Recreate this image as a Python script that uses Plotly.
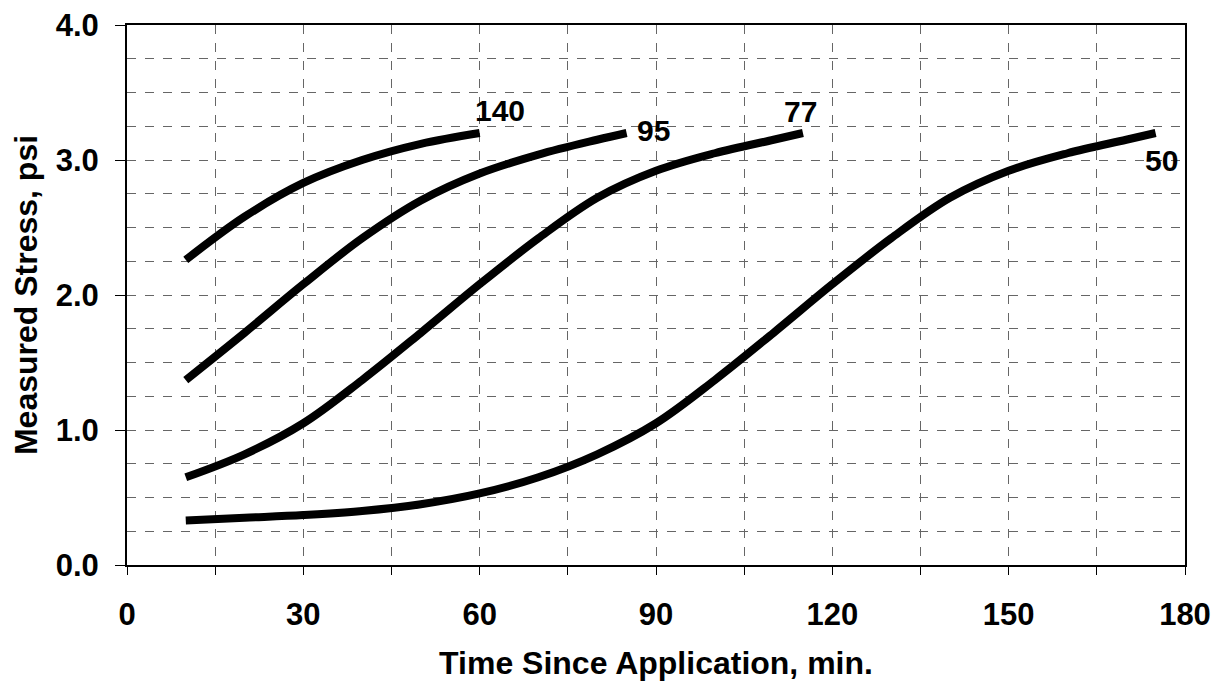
import plotly.graph_objects as go

# curves labelled by temperature
t140 = [10, 20, 30, 40, 50, 60]
s140 = [2.26, 2.58, 2.83, 3.0, 3.12, 3.2]

t95 = [10, 20, 30, 40, 50, 60, 70, 80, 85]
s95 = [1.37, 1.72, 2.08, 2.42, 2.7, 2.9, 3.04, 3.15, 3.2]

t77 = [10, 20, 30, 40, 50, 60, 70, 80, 90, 100, 110, 115]
s77 = [0.65, 0.82, 1.05, 1.37, 1.72, 2.08, 2.42, 2.72, 2.92, 3.05, 3.15, 3.2]

t50 = [10, 20, 30, 40, 50, 60, 70, 80, 90, 100, 110, 120, 130, 140, 150, 160, 170, 175]
s50 = [0.33, 0.35, 0.37, 0.4, 0.45, 0.53, 0.65, 0.82, 1.05, 1.37, 1.72, 2.08,
       2.42, 2.72, 2.92, 3.05, 3.15, 3.2]

labels = ["140", "95", "77", "50"]
label_x = [63.5, 89.5, 114.5, 176]
label_y = [3.37, 3.22, 3.36, 3.0]

fig = go.Figure()
for t, s in [(t140, s140), (t95, s95), (t77, s77), (t50, s50)]:
    fig.add_trace(go.Scatter(x=t, y=s, mode="lines",
                             line=dict(color="black", width=8, shape="spline"),
                             showlegend=False))

for lab, lx, ly in zip(labels, label_x, label_y):
    fig.add_annotation(x=lx, y=ly, text="<b>%s</b>" % lab, showarrow=False,
                       font=dict(size=30, color="black"))

# page has an 8px body margin, so the figure is a bit smaller than the window
fig.update_layout(
    width=1214, height=683,
    margin=dict(l=119, r=37, t=17, b=126),
    plot_bgcolor="white", paper_bgcolor="white",
    font=dict(family="Liberation Sans, Arial", color="black"),
)
fig.update_xaxes(
    range=[0, 180], tickmode="linear", tick0=0, dtick=30, automargin=False,
    tickfont=dict(size=31), tickprefix="<b>", ticksuffix="</b>",
    ticklabeloverflow="allow",
    title=dict(text="<b>Time Since Application, min.</b>", font=dict(size=32), standoff=20),
    showline=True, linecolor="black", linewidth=2, mirror=True,
    ticks="outside", ticklen=8, tickcolor="black", ticklabelstandoff=13,
    showgrid=True, gridcolor="#666", griddash="dash", gridwidth=1,
    minor=dict(dtick=15, showgrid=True, gridcolor="#666", griddash="dash",
               ticks="outside", ticklen=8, tickcolor="black"),
    zeroline=False,
)
fig.update_yaxes(
    range=[0, 4], tickmode="linear", tick0=0, dtick=1, tickformat=".1f", automargin=False,
    tickfont=dict(size=31), tickprefix="<b>", ticksuffix="</b>",
    ticklabeloverflow="allow",
    title=dict(text="<b>Measured Stress, psi</b>", font=dict(size=32), standoff=12),
    showline=True, linecolor="black", linewidth=2, mirror=True,
    ticks="outside", ticklen=10, tickcolor="black", ticklabelstandoff=10,
    showgrid=True, gridcolor="#666", griddash="dash", gridwidth=1,
    minor=dict(dtick=0.25, showgrid=True, gridcolor="#666", griddash="dash"),
    zeroline=False,
)

fig.write_html("out.html")
